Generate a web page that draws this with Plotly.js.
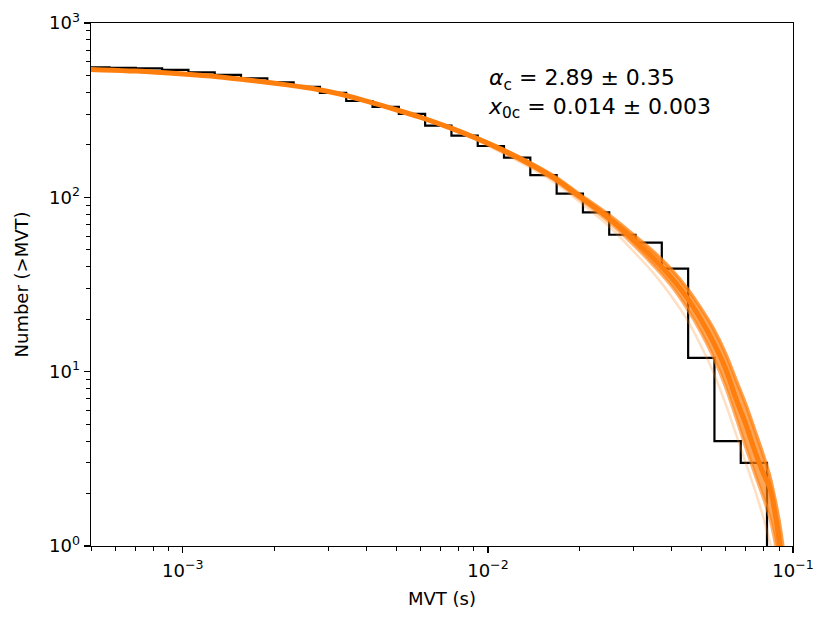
<!DOCTYPE html>
<html>
<head>
<meta charset="utf-8">
<script src="https://cdn.plot.ly/plotly-3.0.1.min.js"></script>
<style>
  html, body { margin: 0; padding: 0; background: #fff; }
  #chart { width: 831px; height: 623px; }
</style>
</head>
<body>
<div id="chart"></div>
<script>
// ---- Histogram (cumulative number > MVT), log-spaced bin edges in seconds ----
const binEdges = [0.0004717, 0.0005752, 0.0007015, 0.0008553, 0.001043, 0.001272,
  0.001551, 0.001892, 0.002308, 0.002814, 0.003432, 0.004186, 0.005105, 0.006226,
  0.007593, 0.00926, 0.01129, 0.01377, 0.01680, 0.02049, 0.02498, 0.03047,
  0.03715, 0.04532, 0.05527, 0.06741, 0.08219];
const cumCounts = [556, 553, 549, 538, 521, 504, 481, 456, 430, 397, 357, 330, 301,
  258, 226, 197, 169, 134, 105, 82, 61, 55, 39, 12, 4, 3, 0];

// ---- Fitted model curves ----
const modelX = [0.0004, 0.0005, 0.0007, 0.001, 0.0013, 0.0016, 0.002, 0.0025, 0.003,
  0.0035, 0.004, 0.005, 0.006, 0.0075, 0.009, 0.011, 0.0135, 0.0165, 0.02, 0.025,
  0.03, 0.035, 0.04, 0.045, 0.05, 0.055, 0.06, 0.065, 0.07, 0.075, 0.08, 0.084,
  0.087, 0.09, 0.093, 0.096];
const modelMid = [548, 541, 530, 510, 492, 473, 451, 428, 405, 380, 356, 318, 288,
  251, 221, 189, 158, 129, 101, 75.5, 57, 44.5, 34.5, 26.5, 19.8, 14.6, 10.5, 7, 5, 3.5,
  2.6, 2.15, 1.6, 1.08, 0.7, 0.4];
const modelHi = [548, 541, 530, 510, 492, 473, 451, 428, 405, 380, 357, 319, 290,
  253, 223, 192, 161, 132, 104, 79, 61, 48.5, 38.5, 30, 23, 17.5, 12.8, 9, 6.5, 4.6,
  3.3, 2.5, 1.9, 1.4, 0.95, 0.6];
const modelLo = [548, 541, 530, 510, 492, 473, 451, 428, 405, 380, 355, 317, 287,
  249, 219, 186, 155, 126, 98, 72, 53.5, 40.5, 31, 23, 16.8, 12, 8.3, 5.5, 3.7, 2.6,
  1.9, 1.45, 1.1, 0.75, 0.5, 0.3];
const modelFaint = [548, 541, 530, 510, 492, 473, 451, 428, 405, 380, 355, 316, 285,
  246, 216, 182, 151, 122, 94, 68, 49, 36.5, 27, 19.8, 14, 9.8, 6.6, 4.4, 3, 2.1,
  1.45, 1.05, 0.8, 0.55, 0.38, 0.25];

const fitText = ['<i>α</i><sub>c</sub> = 2.89 ± 0.35', '<i>x</i><sub>0c</sub> = 0.014 ± 0.003'];

const xTickVals = [0.001, 0.01, 0.1];
const xTickText = ['10<sup>−3</sup>', '10<sup>−2</sup>', '10<sup>−1</sup>'];
const yTickVals = [1, 10, 100, 1000];
const yTickText = ['10<sup>0</sup>', '10<sup>1</sup>', '10<sup>2</sup>', '10<sup>3</sup>'];

// minor tick positions (2..9 x each decade)
const minorX = [];
[0.0001, 0.001, 0.01].forEach(d => { for (let m = 2; m <= 9; m++) minorX.push(m * d); });
const minorY = [];
[1, 10, 100].forEach(d => { for (let m = 2; m <= 9; m++) minorY.push(m * d); });

const ORANGE = '#ff7f0e';
// zero counts cannot be drawn on a log axis: clip below the axis like matplotlib does
const histY = cumCounts.map(v => (v > 0 ? v : 0.01));

const traces = [
  { x: binEdges, y: histY, mode: 'lines', line: { shape: 'hv', color: '#000', width: 2.2 },
    hoverinfo: 'skip', showlegend: false },
  { x: modelX, y: modelFaint, mode: 'lines', line: { shape: 'spline', color: ORANGE, width: 2.5 },
    opacity: 0.25, hoverinfo: 'skip', showlegend: false },
  { x: modelX, y: modelLo, mode: 'lines', line: { shape: 'spline', color: 'rgba(255,127,14,0.6)', width: 3.5 },
    hoverinfo: 'skip', showlegend: false },
  { x: modelX, y: modelHi, mode: 'lines', line: { shape: 'spline', color: 'rgba(255,127,14,0.75)', width: 3.5 },
    fill: 'tonexty', fillcolor: 'rgba(255,127,14,0.7)', hoverinfo: 'skip', showlegend: false },
  { x: modelX, y: modelMid, mode: 'lines', line: { shape: 'spline', color: ORANGE, width: 5 },
    hoverinfo: 'skip', showlegend: false }
];

const axisCommon = {
  type: 'log', showgrid: false, zeroline: false,
  showline: true, mirror: true, linecolor: '#000', linewidth: 1.4,
  ticks: 'outside', ticklen: 6, tickwidth: 1.3, tickcolor: '#000',
  tickmode: 'array',
  tickfont: { family: 'DejaVu Sans', size: 18, color: '#000' },
  automargin: false
};

const layout = {
  width: 831, height: 623,
  margin: { l: 91, r: 38, t: 23, b: 77 },
  paper_bgcolor: '#fff', plot_bgcolor: '#fff',
  font: { family: 'DejaVu Sans', color: '#000', size: 18 },
  showlegend: false,
  xaxis: Object.assign({}, axisCommon, {
    range: [Math.log10(0.0005), -1],
    tickvals: xTickVals, ticktext: xTickText,
    ticklabelstandoff: 2,
    minor: { tickmode: 'array', tickvals: minorX, ticks: 'outside', ticklen: 3.5, tickwidth: 1, tickcolor: '#000', showgrid: false },
    title: { text: 'MVT (s)', font: { family: 'DejaVu Sans', size: 18, color: '#000' }, standoff: 12 }
  }),
  yaxis: Object.assign({}, axisCommon, {
    range: [0, 3],
    tickvals: yTickVals, ticktext: yTickText,
    minor: { tickmode: 'array', tickvals: minorY, ticks: 'outside', ticklen: 3.5, tickwidth: 1, tickcolor: '#000', showgrid: false },
    title: { text: 'Number (>MVT)', font: { family: 'DejaVu Sans', size: 18, color: '#000' }, standoff: 15 }
  }),
  annotations: [{
    xref: 'paper', yref: 'paper', x: 0.562, y: 0.924,
    xanchor: 'left', yanchor: 'top', align: 'left', showarrow: false,
    text: fitText.join('<br>'),
    font: { family: 'DejaVu Sans', size: 22, color: '#000' }
  }]
};

Plotly.newPlot('chart', traces, layout, { staticPlot: true, displayModeBar: false });
</script>
</body>
</html>
